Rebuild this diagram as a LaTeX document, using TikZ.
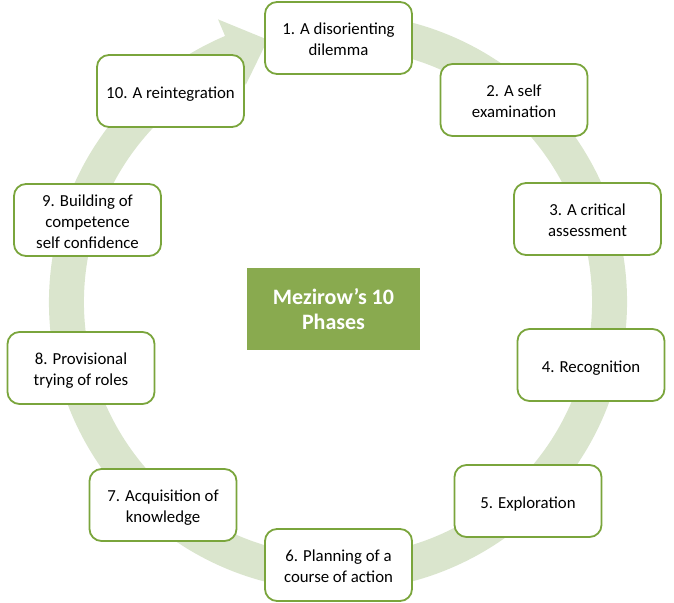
\documentclass[tikz,border=0pt]{standalone}
\usepackage{fontspec}
\setmainfont{Carlito}
\definecolor{ringgreen}{RGB}{218,229,205}
\definecolor{boxgreen}{RGB}{122,165,60}
\definecolor{centergreen}{RGB}{137,170,79}
\newcommand\lowtxt[1]{\raisebox{-3pt}[\height][\depth]{\begin{tabular}{@{}c@{}}#1\end{tabular}}}
\begin{document}
\begin{tikzpicture}[x=1pt,y=1pt,
  stagebox/.style={draw=boxgreen, line width=1.8pt, fill=white, rounded corners=12pt,
    minimum width=147pt, minimum height=72pt, align=center, inner sep=0pt,
    font=\fontsize{16.8}{21}\selectfont},
  centerbox/.style={fill=centergreen, minimum width=173pt, minimum height=82pt,
    align=center, inner sep=0pt, text=white,
    font=\fontsize{22}{25.5}\selectfont\bfseries}]
\useasboundingbox (0,0) rectangle (674,602);
% circular arrow
\fill[ringgreen]
  ([shift={(338,300)}]80:289) arc[start angle=80, end angle=-247, radius=289]
  -- ([shift={(338,300)}]-247:307)
  -- ([shift={(338,300)}]-255:271.5)
  -- ([shift={(338,300)}]-247:236)
  -- ([shift={(338,300)}]-247:254)
  arc[start angle=-247, end angle=80, radius=254]
  -- cycle;
% centre
\node[centerbox] (c) at (333.5,293) {Mezirow’s 10\\Phases};
% stages
\node[stagebox] (s1) at (338.5,564) {\lowtxt{1. A disorienting\\dilemma}};
\node[stagebox] (s2) at (514,502) {\lowtxt{2. A self\\examination}};
\node[stagebox] (s3) at (587.5,383) {\lowtxt{3. A critical\\assessment}};
\node[stagebox] (s4) at (591,237) {\lowtxt{4. Recognition}};
\node[stagebox] (s5) at (528,101) {\lowtxt{5. Exploration}};
\node[stagebox] (s6) at (338.5,37) {\lowtxt{6. Planning of a\\course of action}};
\node[stagebox] (s7) at (163,97) {\lowtxt{7. Acquisition of\\knowledge}};
\node[stagebox] (s8) at (81,234) {\lowtxt{8. Provisional\\trying of roles}};
\node[stagebox] (s9) at (87.5,382) {\lowtxt{9. Building of\\competence\\self confidence}};
\node[stagebox] (s10) at (170.5,511) {\lowtxt{10. A reintegration}};
\end{tikzpicture}
\end{document}
